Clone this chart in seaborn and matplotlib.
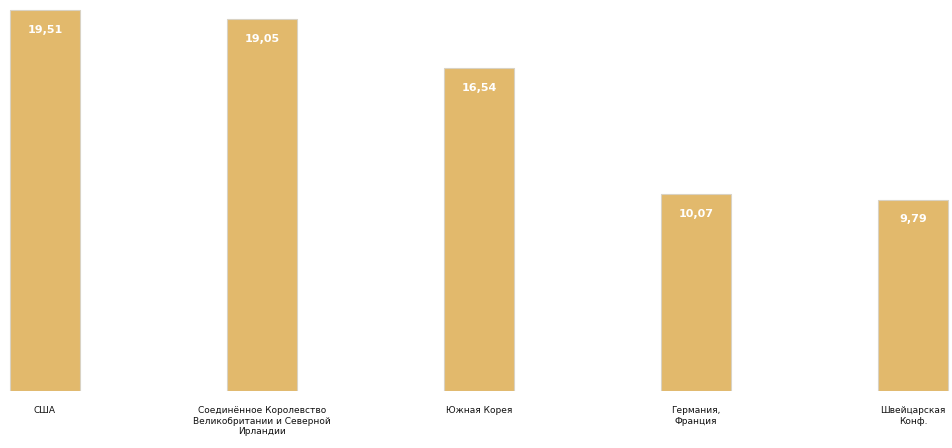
import matplotlib
matplotlib.use("Agg")
import matplotlib.pyplot as plt
import seaborn as sns
import pandas as pd

# Data
categories = [
    "США",
    "Соединённое Королевство\nВеликобритании и Северной\nИрландии",
    "Южная Корея",
    "Германия,\nФранция",
    "Швейцарская\nКонф.",
]
values = [19.51, 19.05, 16.54, 10.07, 9.79]
value_labels = ["19,51", "19,05", "16,54", "10,07", "9,79"]

df = pd.DataFrame({"cat": categories, "val": values})

sns.set_theme(style="white")
plt.rcParams["font.family"] = ["DejaVu Sans"]

fig = plt.figure(figsize=(9.52, 4.48), dpi=100)
ax = fig.add_axes([0.0, 57 / 448, 1.0, 1 - 57 / 448])

sns.barplot(data=df, x="cat", y="val", color="#E2B96C", saturation=1,
            width=0.32, edgecolor="#D9D2C3", linewidth=0.8, ax=ax)

ax.set_xlim(-0.207, 4.18)
ax.set_ylim(0, 20.02)
ax.set_xlabel("")
ax.set_ylabel("")
ax.set_yticks([])
ax.tick_params(axis="x", length=0, labelsize=6.5, colors="#111111", pad=11)
for s in ax.spines.values():
    s.set_visible(False)

for i, (v, lab) in enumerate(zip(values, value_labels)):
    ax.text(i, v - 0.75, lab, ha="center", va="top", color="white",
            fontsize=8, fontweight="bold")

fig.savefig("out.png", dpi=100)
